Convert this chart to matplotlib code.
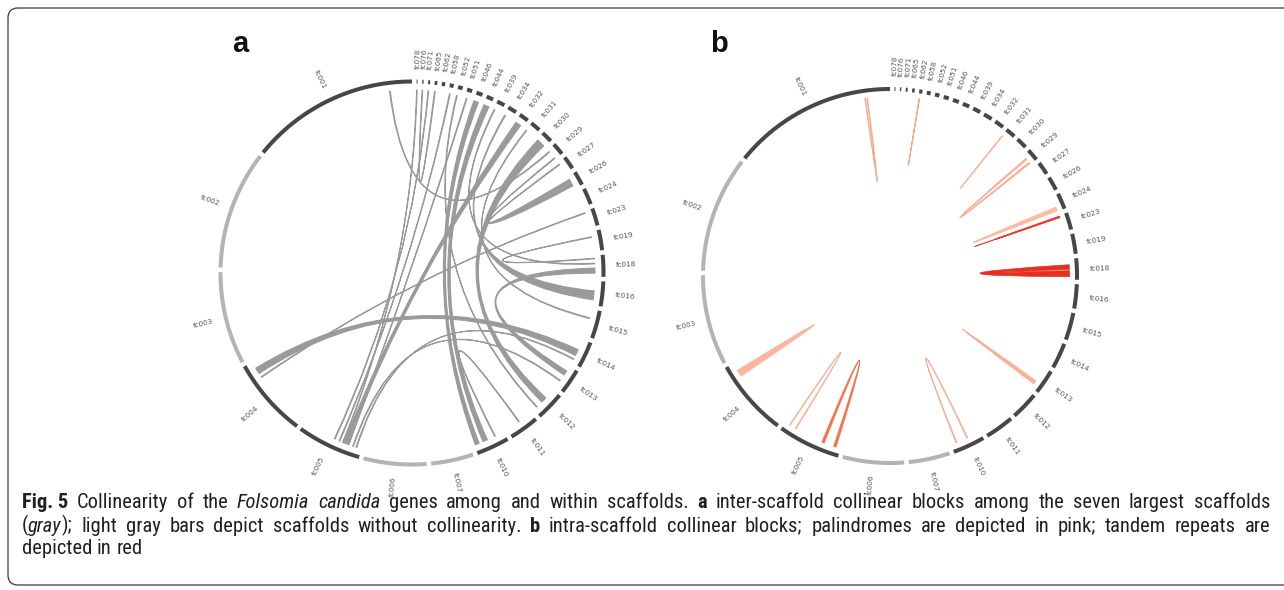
import numpy as np
import matplotlib
matplotlib.use("Agg")
import matplotlib.pyplot as plt
from matplotlib.path import Path
from matplotlib.patches import PathPatch, FancyBboxPatch
from matplotlib import font_manager

# ---------------- data ----------------
scaffold_names = ["fc001", "fc002", "fc003", "fc004", "fc005", "fc006", "fc007", "fc010",
                  "fc011", "fc012", "fc013", "fc014", "fc015", "fc016", "fc018", "fc019",
                  "fc023", "fc024", "fc026", "fc027", "fc029", "fc030", "fc031", "fc032",
                  "fc034", "fc039", "fc044", "fc046", "fc051", "fc052", "fc058", "fc062",
                  "fc065", "fc071", "fc076", "fc078"]
scaffold_sizes = [51, 36, 28, 24, 19.5, 19, 12.8, 10,
                  9, 8.7, 7.6, 8, 8.5, 7.5, 6.6, 6.2,
                  5.3, 5, 4.3, 4, 3.7, 3.4, 3.1, 2.9,
                  2.7, 2.4, 2.1, 1.9, 1.6, 1.4, 1.2, 1.0,
                  0.8, 0.6, 0.4, 0.3]
light_scaffolds = ["fc002", "fc003", "fc006", "fc007"]

# panel a: inter-scaffold collinear blocks (scaffold, start, end) -> (scaffold, start, end)
inter_src = ["fc004", "fc004", "fc005", "fc030", "fc010", "fc010", "fc010", "fc005",
             "fc005", "fc018", "fc019", "fc026", "fc026", "fc001", "fc031", "fc034",
             "fc039", "fc078", "fc071", "fc076", "fc058", "fc052", "fc051"]
inter_src_start = [2.2, 5.4, 13.6, 0.4, 0.3, 2.9, 6.9, 17.7,
                   16.6, 1.1, 4.4, 1.0, 2.3, 6.8, 2.8, 2.2,
                   1.9, 0.05, 0.2, 0.1, 0.5, 1.0, 0.8]
inter_src_end = [4.2, 5.65, 14.9, 3.0, 1.6, 4.4, 7.15, 17.95,
                 16.85, 2.7, 4.6, 2.0, 3.3, 7.05, 3.0, 2.5,
                 2.15, 0.25, 0.4, 0.3, 0.75, 1.25, 1.05]
inter_dst = ["fc014", "fc023", "fc032", "fc012", "fc046", "fc044", "fc011", "fc014",
             "fc013", "fc013", "fc018", "fc029", "fc027", "fc029", "fc015", "fc016",
             "fc018", "fc005", "fc005", "fc065", "fc005", "fc012", "fc005"]
inter_dst_start = [2.5, 4.6, 0.8, 3.5, 0.3, 0.2, 4.3, 1.1,
                   2.1, 4.4, 5.6, 0.2, 3.1, 2.8, 5.5, 1.6,
                   4.0, 13.2, 10.4, 0.3, 12.0, 1.2, 15.1]
inter_dst_end = [4.5, 4.8, 2.6, 5.3, 1.8, 1.9, 4.55, 1.35,
                 2.35, 5.9, 5.8, 0.45, 3.35, 3.05, 5.75, 4.4,
                 4.25, 13.45, 10.65, 0.55, 12.25, 1.45, 15.35]

# panel b: intra-scaffold collinear blocks (scaffold, first copy, second copy)
intra_scaffold = ["fc001", "fc062", "fc031", "fc029", "fc024", "fc023", "fc018",
                  "fc013", "fc010", "fc005", "fc005", "fc004"]
intra_a_start = [7.15, 0.45, 2.8, 0.3, 0.2, 4.55, 0.95, 1.35, 1.65, 13.2, 1.45, 2.6]
intra_a_end = [7.4, 0.55, 2.9, 0.8, 0.85, 4.8, 2.85, 1.95, 1.95, 14.0, 1.75, 3.7]
intra_b_start = [7.85, 0.6, 2.95, 1.9, 0.85, 4.8, 3.25, 1.95, 5.45, 17.2, 3.65, 3.7]
intra_b_end = [8.1, 0.7, 3.05, 2.4, 1.5, 5.1, 4.75, 2.55, 5.75, 18.0, 3.95, 4.8]
intra_color = ["#f9a88c", "#f9a88c", "#fbb59d", "#f9ab90", "#fbbba2", "#ec3b2c",
               "#e5301f", "#f8b096", "#f9ab90", "#f6714f", "#fbb198", "#fbb69e"]

# ---------------- figure ----------------
W, H = 1284, 590
fig = plt.figure(figsize=(W / 100, H / 100), dpi=100)
ax = fig.add_axes([0, 0, 1, 1])
ax.set_xlim(0, W)
ax.set_ylim(H, 0)
ax.axis("off")

GAP = 1.375
n = len(scaffold_names)
SCALE = (360.0 - n * GAP) / sum(scaffold_sizes)
starts = {}
acc = 90.0
for nm, sz in zip(scaffold_names, scaffold_sizes):
    starts[nm] = acc
    acc += sz * SCALE + GAP


def ang(nm, off):
    return starts[nm] + off * SCALE


def arc_pts(cx, cy, r, a0, a1, k=24):
    t = np.radians(np.linspace(a0, a1, k))
    return np.column_stack([cx + r * np.cos(t), cy - r * np.sin(t)])


def ribbon(cx, cy, r, s0, s1, t0, t1, color, lw, z=2):
    A = arc_pts(cx, cy, r, s0, s1)
    B = arc_pts(cx, cy, r, t0, t1)
    verts = list(A)
    codes = [Path.MOVETO] + [Path.LINETO] * (len(A) - 1)
    verts += [(cx, cy), tuple(B[0])]
    codes += [Path.CURVE3, Path.CURVE3]
    verts += list(B[1:])
    codes += [Path.LINETO] * (len(B) - 1)
    verts += [(cx, cy), tuple(A[0])]
    codes += [Path.CURVE3, Path.CURVE3]
    verts.append(tuple(A[0]))
    codes.append(Path.CLOSEPOLY)
    ax.add_patch(PathPatch(Path(verts, codes), facecolor=color, edgecolor=color,
                           lw=lw, joinstyle="round", zorder=z))


def draw_ring(cx, cy, r):
    for nm, sz in zip(scaffold_names, scaffold_sizes):
        a0 = starts[nm]
        a1 = a0 + sz * SCALE
        p = arc_pts(cx, cy, r, a0, a1, 60)
        col = "#b4b4b4" if nm in light_scaffolds else "#474747"
        ax.plot(p[:, 0], p[:, 1], color=col, lw=2.9, solid_capstyle="butt", zorder=3)
        m = (a0 + a1) / 2.0
        mm = m % 360
        rot = mm - 180 if 90 < mm < 270 else (mm if mm <= 90 else mm - 360)
        rl = r + 23
        x = cx + rl * np.cos(np.radians(m))
        y = cy - rl * np.sin(np.radians(m))
        ax.text(x, y, nm, rotation=rot, rotation_mode="anchor", ha="center",
                va="center", fontsize=5.2, color="#555555", zorder=4)


# panel a
CAX, CAY, RA = 412, 273, 191.5
draw_ring(CAX, CAY, RA)
for i in range(len(inter_src)):
    s0 = ang(inter_src[i], inter_src_start[i])
    s1 = ang(inter_src[i], inter_src_end[i])
    t0 = ang(inter_dst[i], inter_dst_start[i])
    t1 = ang(inter_dst[i], inter_dst_end[i])
    ribbon(CAX, CAY, RA - 8.5, s0, s1, t0, t1, "#9a9a9a", 0.75)

# panel b
CBX, CBY, RB = 890, 276, 187
draw_ring(CBX, CBY, RB)
for i in range(len(intra_scaffold)):
    nm = intra_scaffold[i]
    ribbon(CBX, CBY, RB - 7.5, ang(nm, intra_a_start[i]), ang(nm, intra_a_end[i]),
           ang(nm, intra_b_start[i]), ang(nm, intra_b_end[i]), intra_color[i], 0.5)

# panel letters
ax.text(240, 52, "a", fontsize=21, fontweight="bold", family=["Liberation Sans", "DejaVu Sans"],
        ha="center", va="baseline", color="#111111")
ax.text(719, 52, "b", fontsize=21, fontweight="bold", family=["Liberation Sans", "DejaVu Sans"],
        ha="center", va="baseline", color="#111111")

# frame
ax.add_patch(FancyBboxPatch((8, 8), 1300, 577, boxstyle="round,pad=0,rounding_size=10",
                            fill=False, ec="#3a3a3a", lw=0.9, zorder=1))

# ---------------- caption ----------------
avail = {f.name for f in font_manager.fontManager.ttflist}
cap_family = "DejaVu Sans"
for fam in ["Liberation Sans Narrow", "Roboto Condensed", "DejaVu Sans Condensed",
            "Open Sans Condensed", "Liberation Sans", "Roboto"]:
    if fam in avail:
        cap_family = fam
        break

N, B, I = "normal", "bold", "italic"
line1 = [[("Fig. 5", B)], [("Collinearity", N)], [("of", N)], [("the", N)],
         [("Folsomia", I)], [("candida", I)], [("genes", N)], [("among", N)], [("and", N)],
         [("within", N)], [("scaffolds.", N)], [("a", B)], [("inter-scaffold", N)],
         [("collinear", N)], [("blocks", N)], [("among", N)], [("the", N)], [("seven", N)],
         [("largest", N)], [("scaffolds", N)]]
line2 = [[("(", N), ("gray", I), (");", N)], [("light", N)], [("gray", N)], [("bars", N)],
         [("depict", N)], [("scaffolds", N)], [("without", N)], [("collinearity.", N)],
         [("b", B)], [("intra-scaffold", N)], [("collinear", N)], [("blocks;", N)],
         [("palindromes", N)], [("are", N)], [("depicted", N)], [("in", N)], [("pink;", N)],
         [("tandem", N)], [("repeats", N)], [("are", N)]]
line3 = [[("depicted", N)], [("in", N)], [("red", N)]]

renderer = fig.canvas.get_renderer()


def props(style, fs):
    d = dict(fontsize=fs, family=[cap_family, "DejaVu Sans"], color="#231f20")
    if style == B:
        d["fontweight"] = "bold"
    if style == I:
        d["fontstyle"] = "italic"
    return d


def seg_width(txt, style, fs):
    t = ax.text(0, 0, txt, **props(style, fs))
    w = t.get_window_extent(renderer).width
    t.remove()
    return w


def word_width(word, fs):
    return sum(seg_width(s, st, fs) for s, st in word)


fs0 = 12.0
space0 = seg_width("a a", N, fs0) - seg_width("aa", N, fs0)
nat = sum(word_width(w, fs0) for w in line1) + space0 * (len(line1) - 1)
FS = fs0 * 1248.0 / nat
FS = min(FS, 14.8)
space = seg_width("a a", N, FS) - seg_width("aa", N, FS)


def draw_line(words, y, justify):
    widths = [word_width(w, FS) for w in words]
    if justify:
        gap = (1248.0 - sum(widths)) / (len(words) - 1)
    else:
        gap = space
    x = 22.0
    for w, ww in zip(words, widths):
        xx = x
        for s, st in w:
            ax.text(xx, y, s, ha="left", va="baseline", **props(st, FS))
            xx += seg_width(s, st, FS)
        x += ww + gap


draw_line(line1, 508, True)
draw_line(line2, 531.5, True)
draw_line(line3, 554.5, False)

fig.savefig("out.png", dpi=100)
